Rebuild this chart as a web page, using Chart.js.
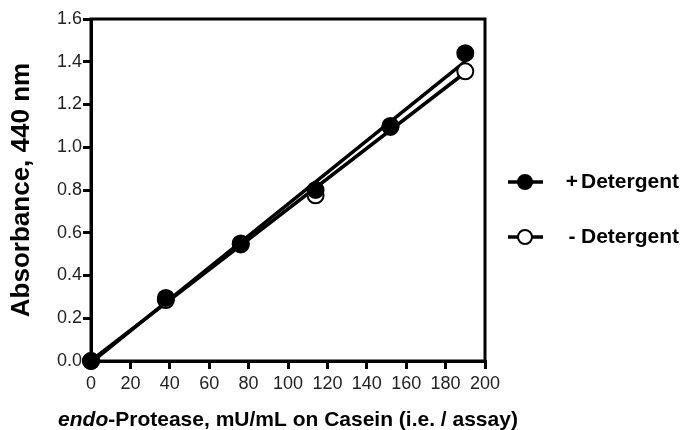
<!DOCTYPE html>
<html>
<head>
<meta charset="utf-8">
<script src="https://cdn.jsdelivr.net/npm/chart.js@4/dist/chart.umd.min.js"></script>
<style>
  body { margin: 0; background: #fff; }
</style>
</head>
<body>
<canvas id="chart-protease" width="687" height="430"></canvas>
<script>
// enzyme activity on casein vs absorbance at 440 nm
const activity = [0, 38, 76, 114, 152, 190];
const withDetergent = [0, 0.295, 0.55, 0.80, 1.10, 1.44];
const noDetergent = [0, 0.285, 0.545, 0.775, 1.095, 1.355];
const seriesNames = ["+ Detergent", "- Detergent"];
const xTicks = [0, 20, 40, 60, 80, 100, 120, 140, 160, 180, 200];
const yTicks = [0.0, 0.2, 0.4, 0.6, 0.8, 1.0, 1.2, 1.4, 1.6];

const FONT = "'Liberation Sans', Arial, sans-serif";

// straight line fit, drawn from first to last x
function fitLine(xs, ys) {
    const n = xs.length;
    const mx = xs.reduce((a, b) => a + b, 0) / n;
    const my = ys.reduce((a, b) => a + b, 0) / n;
    let sxy = 0, sxx = 0;
    for (let i = 0; i < n; i++) {
        sxy += (xs[i] - mx) * (ys[i] - my);
        sxx += (xs[i] - mx) * (xs[i] - mx);
    }
    const slope = sxy / sxx;
    const icept = my - slope * mx;
    const x0 = xs[0], x1 = xs[n - 1];
    return [{ x: x0, y: icept + slope * x0 }, { x: x1, y: icept + slope * x1 }];
}

const toPoints = (ys) => activity.map((x, i) => ({ x: x, y: ys[i] }));

const frameBox = {
    id: "frameBox",
    beforeDatasetsDraw(chart) {
        const { ctx, chartArea: a } = chart;
        ctx.save();
        ctx.strokeStyle = "#000";
        ctx.lineWidth = 3;
        ctx.strokeRect(a.left, a.top, a.right - a.left, a.bottom - a.top);
        ctx.restore();
    },
};

const extraText = {
    id: "extraText",
    afterDraw(chart) {
        const { ctx, chartArea: a } = chart;
        ctx.save();
        // x axis title, "endo" in italics
        const part1 = "endo";
        const part2 = "-Protease, mU/mL on Casein (i.e. / assay)";
        const f1 = "italic bold 21px " + FONT;
        const f2 = "bold 21px " + FONT;
        ctx.font = f1;
        const w1 = ctx.measureText(part1).width;
        ctx.font = f2;
        const w2 = ctx.measureText(part2).width;
        let x = (a.left + a.right) / 2 - (w1 + w2) / 2;
        const y = 420;
        ctx.fillStyle = "#000";
        ctx.textBaseline = "middle";
        ctx.textAlign = "left";
        ctx.font = f1;
        ctx.fillText(part1, x, y);
        ctx.font = f2;
        ctx.fillText(part2, x + w1, y);

        // legend
        const rows = [182, 237];
        const fills = ["#000", "#fff"];
        seriesNames.forEach((name, i) => {
            const ry = rows[i];
            ctx.strokeStyle = "#000";
            ctx.lineWidth = 3.5;
            ctx.beginPath();
            ctx.moveTo(508, ry);
            ctx.lineTo(543, ry);
            ctx.stroke();
            ctx.beginPath();
            ctx.arc(525, ry, 7, 0, Math.PI * 2);
            ctx.fillStyle = fills[i];
            ctx.fill();
            ctx.lineWidth = 2;
            ctx.stroke();
            const sign = name.slice(0, name.indexOf(" "));
            const rest = name.slice(name.indexOf(" ") + 1);
            ctx.fillStyle = "#000";
            ctx.font = "bold 21px " + FONT;
            ctx.textAlign = "center";
            ctx.fillText(sign, 572, ry);
            ctx.textAlign = "left";
            ctx.fillText(rest, 581, ry);
        });
        ctx.restore();
    },
};

const config = {
    type: "scatter",
    data: {
        datasets: [
            {
                type: "line",
                label: seriesNames[1] + " fit",
                data: fitLine(activity, noDetergent),
                borderColor: "#000",
                borderWidth: 3.5,
                pointRadius: 0,
                clip: false,
                order: 4,
            },
            {
                type: "line",
                label: seriesNames[0] + " fit",
                data: fitLine(activity, withDetergent),
                borderColor: "#000",
                borderWidth: 3.5,
                pointRadius: 0,
                clip: false,
                order: 3,
            },
            {
                label: seriesNames[1],
                data: toPoints(noDetergent),
                backgroundColor: "#fff",
                borderColor: "#000",
                borderWidth: 2,
                pointRadius: 8,
                clip: false,
                order: 2,
            },
            {
                label: seriesNames[0],
                data: toPoints(withDetergent),
                backgroundColor: "#000",
                borderColor: "#000",
                borderWidth: 2,
                pointRadius: 8,
                clip: false,
                order: 1,
            },
        ],
    },
    options: {
        responsive: false,
        animation: false,
        layout: { padding: { left: 0, right: 202, top: 19, bottom: 0 } },
        plugins: {
            legend: { display: false },
            tooltip: { enabled: false },
        },
        scales: {
            x: {
                type: "linear",
                min: 0,
                max: 200,
                afterBuildTicks: (s) => { s.ticks = xTicks.map((v) => ({ value: v })); },
                afterFit: (s) => { s.height = 69; },
                border: { display: true, color: "#000", width: 3 },
                grid: { drawOnChartArea: false, drawTicks: true, tickLength: 8, color: "#000", lineWidth: 3 },
                ticks: { color: "#222", padding: 4, font: { family: FONT, size: 18 } },
            },
            y: {
                type: "linear",
                min: 0,
                max: 1.6,
                afterBuildTicks: (s) => { s.ticks = yTicks.map((v) => ({ value: v })); },
                afterFit: (s) => { s.width = 91; },
                border: { display: true, color: "#000", width: 3 },
                grid: { drawOnChartArea: false, drawTicks: true, tickLength: 8, color: "#000", lineWidth: 3 },
                ticks: {
                    color: "#222",
                    padding: 1,
                    font: { family: FONT, size: 18 },
                    callback: (v) => Number(v).toFixed(1),
                },
                title: {
                    display: true,
                    text: "Absorbance, 440 nm",
                    color: "#000",
                    font: { family: FONT, size: 26, weight: "bold" },
                    padding: { top: 6, bottom: 0 },
                },
            },
        },
    },
    plugins: [frameBox, extraText],
};

const canvas = document.getElementById("chart-protease");
const chart = new Chart(canvas, config);
</script>
</body>
</html>
